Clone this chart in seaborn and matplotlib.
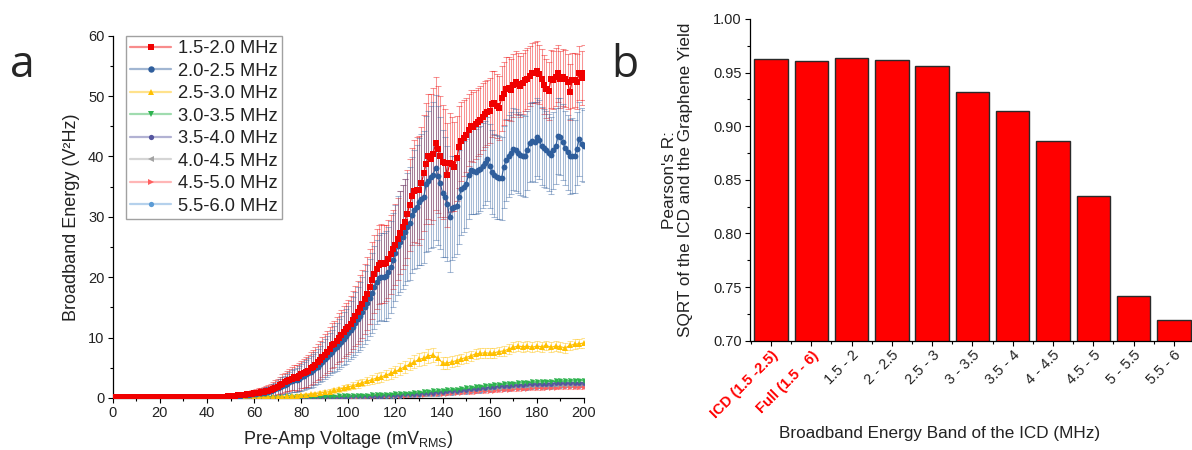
import numpy as np
import matplotlib
matplotlib.use("Agg")
import matplotlib.pyplot as plt
from matplotlib.lines import Line2D
from matplotlib.ticker import MultipleLocator, FixedLocator, FormatStrFormatter
import seaborn as sns

# ---------------- data: panel a (step 1 mV for the two strongest bands) ----------------
band_15_20 = [
    0.10, 0.09, 0.10, 0.11, 0.10, 0.09, 0.10, 0.10, 0.11, 0.10,
    0.10, 0.09, 0.10, 0.10, 0.11, 0.10, 0.10, 0.09, 0.10, 0.10,
    0.11, 0.10, 0.10, 0.10, 0.09, 0.10, 0.11, 0.10, 0.10, 0.10,
    0.10, 0.11, 0.10, 0.10, 0.11, 0.11, 0.12, 0.12, 0.12, 0.13,
    0.13, 0.14, 0.14, 0.15, 0.16, 0.17, 0.19, 0.21, 0.24, 0.27,
    0.30, 0.34, 0.38, 0.42, 0.46, 0.50, 0.55, 0.60, 0.65, 0.70,
    0.75, 0.80, 0.90, 0.95, 1.00, 1.10, 1.20, 1.30, 1.50, 1.70,
    1.90, 2.10, 2.40, 2.60, 2.80, 3.00, 3.20, 3.40, 3.30, 3.60,
    3.90, 4.10, 4.30, 4.50, 4.90, 5.20, 5.50, 5.90, 6.30, 6.80,
    7.20, 7.60, 8.10, 8.70, 9.00, 9.50, 10.0, 10.4, 10.9, 11.4,
    11.8, 12.3, 12.9, 13.6, 14.2, 14.9, 15.6, 16.4, 17.3, 18.4,
    19.5, 20.5, 21.4, 22.1, 22.3, 22.2, 22.4, 23.0, 23.8, 24.6,
    25.4, 26.3, 27.4, 28.3, 29.2, 30.5, 32.0, 33.4, 34.3, 34.5,
    34.4, 35.6, 37.2, 38.8, 40.0, 39.6, 40.4, 42.2, 41.2, 40.0,
    39.1, 38.9, 36.9, 39.0, 38.8, 38.3, 39.7, 41.6, 42.5, 43.0,
    43.6, 44.4, 45.1, 44.9, 45.3, 45.7, 46.0, 46.6, 47.0, 47.3,
    47.6, 48.7, 48.9, 48.3, 48.0, 49.6, 50.4, 51.2, 51.3, 51.0,
    51.8, 52.3, 52.0, 51.6, 52.1, 52.6, 52.9, 53.3, 53.8, 53.9,
    54.1, 53.6, 52.9, 51.9, 51.2, 50.8, 52.8, 52.7, 53.2, 53.8,
    52.8, 53.1, 52.9, 52.4, 50.7, 52.6, 52.7, 52.4, 53.8, 53.0,
    53.9]
err_15_20 = [
    0.10, 0.10, 0.10, 0.10, 0.10, 0.10, 0.10, 0.10, 0.10, 0.10,
    0.10, 0.10, 0.10, 0.10, 0.10, 0.10, 0.10, 0.10, 0.10, 0.10,
    0.10, 0.10, 0.10, 0.10, 0.10, 0.10, 0.10, 0.10, 0.10, 0.10,
    0.10, 0.10, 0.10, 0.10, 0.10, 0.10, 0.10, 0.10, 0.10, 0.10,
    0.10, 0.10, 0.12, 0.12, 0.14, 0.15, 0.17, 0.19, 0.21, 0.23,
    0.25, 0.28, 0.30, 0.33, 0.36, 0.40, 0.43, 0.46, 0.50, 0.55,
    0.60, 0.65, 0.70, 0.75, 0.80, 0.85, 0.90, 1.00, 1.10, 1.20,
    1.30, 1.40, 1.50, 1.60, 1.70, 1.80, 1.90, 2.00, 2.10, 2.20,
    2.30, 2.40, 2.50, 2.60, 2.70, 2.80, 2.90, 3.00, 3.10, 3.30,
    3.40, 3.50, 3.60, 3.70, 3.80, 3.90, 4.00, 4.20, 4.30, 4.40,
    4.50, 4.60, 4.80, 5.00, 5.20, 5.40, 5.60, 5.80, 6.00, 6.20,
    6.40, 6.50, 6.60, 6.60, 6.50, 6.40, 6.30, 6.40, 6.50, 6.60,
    6.70, 6.80, 6.90, 7.00, 7.10, 7.30, 7.60, 8.00, 8.40, 8.80,
    9.00, 9.30, 9.60, 10.0, 10.4, 10.8, 11.0, 11.0, 10.5, 10.0,
    9.50, 9.00, 8.60, 8.20, 7.80, 7.40, 7.00, 6.80, 6.50, 6.30,
    6.10, 6.00, 5.90, 5.80, 5.70, 5.60, 5.60, 5.50, 5.50, 5.40,
    5.40, 5.40, 5.30, 5.30, 5.30, 5.30, 5.20, 5.20, 5.20, 5.20,
    5.20, 5.20, 5.10, 5.10, 5.10, 5.10, 5.00, 5.00, 5.00, 5.00,
    5.00, 4.90, 4.90, 4.90, 4.90, 4.80, 4.80, 4.80, 4.80, 4.70,
    4.70, 4.70, 4.70, 4.60, 4.60, 4.60, 4.50, 4.50, 4.50, 4.50,
    4.50]

band_20_25 = [
    0.08, 0.09, 0.08, 0.08, 0.09, 0.08, 0.08, 0.09, 0.08, 0.08,
    0.08, 0.09, 0.08, 0.08, 0.09, 0.08, 0.08, 0.09, 0.08, 0.08,
    0.08, 0.09, 0.08, 0.08, 0.09, 0.08, 0.08, 0.09, 0.08, 0.08,
    0.08, 0.09, 0.09, 0.09, 0.10, 0.10, 0.10, 0.11, 0.11, 0.12,
    0.12, 0.13, 0.13, 0.14, 0.14, 0.15, 0.18, 0.20, 0.22, 0.25,
    0.28, 0.30, 0.33, 0.36, 0.40, 0.43, 0.47, 0.50, 0.55, 0.60,
    0.65, 0.70, 0.75, 0.80, 0.85, 0.95, 1.05, 1.15, 1.30, 1.45,
    1.60, 1.80, 2.00, 2.20, 2.40, 2.60, 2.80, 2.90, 3.00, 3.20,
    3.40, 3.60, 3.90, 4.10, 4.30, 4.60, 4.90, 5.20, 5.60, 6.00,
    6.40, 6.80, 7.30, 7.70, 8.10, 8.40, 8.90, 9.30, 9.80, 10.2,
    10.7, 11.2, 11.8, 12.4, 13.0, 13.6, 14.3, 15.0, 15.8, 16.6,
    17.4, 18.3, 19.2, 19.9, 20.1, 20.0, 20.2, 20.8, 21.7, 22.8,
    24.0, 25.2, 25.9, 26.6, 27.5, 28.3, 28.9, 30.3, 31.2, 31.7,
    32.5, 32.9, 33.3, 35.4, 36.0, 36.6, 37.0, 38.1, 36.8, 35.6,
    33.9, 33.3, 32.2, 29.9, 31.4, 31.7, 31.8, 33.3, 34.6, 35.0,
    35.5, 37.0, 37.7, 37.6, 37.5, 37.7, 38.0, 38.5, 38.9, 39.6,
    38.4, 37.4, 36.9, 36.6, 36.5, 36.4, 38.3, 39.4, 40.1, 40.6,
    41.2, 41.0, 40.6, 40.3, 40.1, 40.0, 41.0, 42.3, 42.5, 42.4,
    43.2, 42.8, 41.7, 41.4, 41.1, 40.6, 40.2, 41.0, 41.7, 43.4,
    43.3, 42.4, 41.4, 40.7, 40.0, 40.1, 40.0, 41.3, 42.9, 42.0,
    41.7]
err_20_25 = [
    0.10, 0.10, 0.10, 0.10, 0.10, 0.10, 0.10, 0.10, 0.10, 0.10,
    0.10, 0.10, 0.10, 0.10, 0.10, 0.10, 0.10, 0.10, 0.10, 0.10,
    0.10, 0.10, 0.10, 0.10, 0.10, 0.10, 0.10, 0.10, 0.10, 0.10,
    0.10, 0.10, 0.10, 0.10, 0.10, 0.10, 0.10, 0.10, 0.10, 0.10,
    0.10, 0.10, 0.11, 0.12, 0.13, 0.14, 0.16, 0.18, 0.20, 0.22,
    0.24, 0.26, 0.28, 0.30, 0.33, 0.36, 0.40, 0.43, 0.46, 0.50,
    0.55, 0.60, 0.65, 0.70, 0.75, 0.80, 0.85, 0.90, 1.00, 1.10,
    1.20, 1.30, 1.40, 1.50, 1.60, 1.70, 1.80, 1.90, 2.00, 2.10,
    2.20, 2.30, 2.40, 2.50, 2.60, 2.70, 2.80, 2.90, 3.00, 3.20,
    3.30, 3.40, 3.50, 3.60, 3.80, 4.00, 4.10, 4.20, 4.40, 4.50,
    4.60, 4.80, 5.00, 5.20, 5.40, 5.60, 5.80, 6.00, 6.20, 6.40,
    6.60, 6.80, 7.00, 7.10, 7.20, 7.30, 7.40, 7.50, 7.60, 7.80,
    8.00, 8.20, 8.40, 8.60, 8.80, 9.00, 9.30, 9.60, 9.90, 10.2,
    10.5, 10.8, 11.0, 11.3, 11.6, 11.8, 12.0, 12.0, 11.5, 11.0,
    10.5, 10.0, 9.50, 9.00, 8.60, 8.30, 8.00, 7.80, 7.60, 7.50,
    7.40, 7.30, 7.20, 7.20, 7.10, 7.10, 7.00, 7.00, 7.00, 7.00,
    7.00, 7.00, 6.90, 6.90, 6.90, 6.90, 6.80, 6.80, 6.80, 6.80,
    6.80, 6.80, 6.70, 6.70, 6.70, 6.70, 6.60, 6.60, 6.60, 6.60,
    6.50, 6.50, 6.50, 6.50, 6.40, 6.40, 6.40, 6.40, 6.30, 6.30,
    6.30, 6.30, 6.20, 6.20, 6.20, 6.20, 6.10, 6.10, 6.10, 6.10,
    6.00]

# ---------------- data: panel a (step 2 mV for the weaker bands) ----------------
band_25_30 = [
    0.05, 0.05, 0.05, 0.05, 0.05, 0.05, 0.05, 0.05, 0.05, 0.05,
    0.05, 0.05, 0.05, 0.05, 0.05, 0.05, 0.05, 0.06, 0.06, 0.06,
    0.06, 0.06, 0.06, 0.07, 0.07, 0.07, 0.08, 0.08, 0.09, 0.09,
    0.10, 0.11, 0.12, 0.13, 0.15, 0.18, 0.22, 0.27, 0.33, 0.40,
    0.48, 0.56, 0.64, 0.74, 0.84, 0.94, 1.05, 1.25, 1.45, 1.65,
    1.85, 2.05, 2.30, 2.55, 2.80, 3.05, 3.30, 3.50, 3.80, 4.10,
    4.40, 4.80, 5.20, 5.60, 6.00, 6.40, 6.60, 7.00, 7.10, 6.60,
    5.80, 5.80, 6.00, 6.20, 6.50, 6.70, 7.00, 7.30, 7.40, 7.50,
    7.40, 7.50, 7.70, 7.80, 8.10, 8.40, 8.60, 8.50, 8.60, 8.40,
    8.60, 8.50, 8.70, 8.40, 8.60, 8.50, 8.30, 8.70, 8.90, 9.00,
    9.10]
err_25_30 = [
    0.05, 0.05, 0.05, 0.05, 0.05, 0.05, 0.05, 0.05, 0.05, 0.05,
    0.05, 0.05, 0.05, 0.05, 0.05, 0.05, 0.05, 0.05, 0.05, 0.05,
    0.05, 0.05, 0.05, 0.05, 0.05, 0.05, 0.05, 0.05, 0.05, 0.05,
    0.06, 0.07, 0.08, 0.09, 0.10, 0.11, 0.12, 0.14, 0.16, 0.18,
    0.20, 0.22, 0.25, 0.28, 0.30, 0.33, 0.36, 0.40, 0.44, 0.48,
    0.52, 0.56, 0.60, 0.64, 0.68, 0.72, 0.76, 0.80, 0.84, 0.88,
    0.92, 0.96, 1.00, 1.00, 1.05, 1.10, 1.10, 1.15, 1.15, 1.10,
    1.00, 0.95, 0.90, 0.90, 0.85, 0.85, 0.85, 0.80, 0.80, 0.80,
    0.80, 0.80, 0.80, 0.80, 0.80, 0.80, 0.80, 0.80, 0.80, 0.80,
    0.80, 0.80, 0.80, 0.80, 0.80, 0.80, 0.80, 0.80, 0.80, 0.80,
    0.80]

band_30_35 = [
    0.02, 0.02, 0.02, 0.02, 0.02, 0.02, 0.02, 0.02, 0.02, 0.02,
    0.02, 0.02, 0.02, 0.02, 0.02, 0.02, 0.02, 0.02, 0.02, 0.02,
    0.02, 0.02, 0.02, 0.02, 0.02, 0.02, 0.03, 0.03, 0.04, 0.04,
    0.05, 0.05, 0.06, 0.06, 0.07, 0.07, 0.08, 0.09, 0.10, 0.11,
    0.12, 0.13, 0.14, 0.16, 0.17, 0.19, 0.21, 0.23, 0.25, 0.27,
    0.29, 0.31, 0.34, 0.37, 0.40, 0.43, 0.46, 0.49, 0.52, 0.56,
    0.60, 0.64, 0.68, 0.73, 0.78, 0.85, 0.92, 1.00, 1.08, 1.12,
    1.20, 1.25, 1.32, 1.40, 1.48, 1.58, 1.66, 1.75, 1.85, 1.95,
    2.05, 2.12, 2.20, 2.28, 2.35, 2.40, 2.46, 2.50, 2.55, 2.60,
    2.62, 2.66, 2.70, 2.72, 2.74, 2.76, 2.78, 2.80, 2.82, 2.84,
    2.86]
band_35_40 = [
    0.02, 0.02, 0.02, 0.02, 0.02, 0.02, 0.02, 0.02, 0.02, 0.02,
    0.02, 0.02, 0.02, 0.02, 0.02, 0.02, 0.02, 0.02, 0.02, 0.02,
    0.02, 0.02, 0.02, 0.02, 0.02, 0.02, 0.02, 0.03, 0.03, 0.03,
    0.04, 0.04, 0.05, 0.05, 0.06, 0.06, 0.07, 0.07, 0.08, 0.09,
    0.10, 0.11, 0.12, 0.13, 0.14, 0.15, 0.17, 0.18, 0.20, 0.22,
    0.24, 0.26, 0.28, 0.30, 0.32, 0.35, 0.38, 0.41, 0.44, 0.47,
    0.50, 0.54, 0.58, 0.62, 0.67, 0.72, 0.78, 0.84, 0.90, 0.95,
    1.02, 1.08, 1.14, 1.21, 1.28, 1.36, 1.44, 1.52, 1.60, 1.68,
    1.76, 1.84, 1.92, 1.99, 2.05, 2.10, 2.15, 2.20, 2.24, 2.28,
    2.31, 2.34, 2.37, 2.40, 2.42, 2.44, 2.46, 2.48, 2.50, 2.51,
    2.52]
band_40_45 = [
    0.02, 0.02, 0.02, 0.02, 0.02, 0.02, 0.02, 0.02, 0.02, 0.02,
    0.02, 0.02, 0.02, 0.02, 0.02, 0.02, 0.02, 0.02, 0.02, 0.02,
    0.02, 0.02, 0.02, 0.02, 0.02, 0.02, 0.02, 0.03, 0.03, 0.03,
    0.03, 0.04, 0.04, 0.05, 0.05, 0.06, 0.06, 0.07, 0.07, 0.08,
    0.09, 0.10, 0.10, 0.11, 0.12, 0.13, 0.14, 0.16, 0.17, 0.19,
    0.20, 0.22, 0.24, 0.26, 0.28, 0.30, 0.32, 0.35, 0.38, 0.41,
    0.44, 0.47, 0.51, 0.55, 0.59, 0.64, 0.69, 0.74, 0.79, 0.84,
    0.89, 0.95, 1.01, 1.07, 1.13, 1.20, 1.27, 1.34, 1.41, 1.48,
    1.55, 1.62, 1.69, 1.75, 1.81, 1.86, 1.91, 1.96, 2.00, 2.04,
    2.07, 2.10, 2.13, 2.15, 2.17, 2.19, 2.21, 2.23, 2.25, 2.26,
    2.27]
band_45_50 = [
    0.02, 0.02, 0.02, 0.02, 0.02, 0.02, 0.02, 0.02, 0.02, 0.02,
    0.02, 0.02, 0.02, 0.02, 0.02, 0.02, 0.02, 0.02, 0.02, 0.02,
    0.02, 0.02, 0.02, 0.02, 0.02, 0.02, 0.02, 0.02, 0.03, 0.03,
    0.03, 0.03, 0.04, 0.04, 0.04, 0.05, 0.05, 0.06, 0.06, 0.07,
    0.07, 0.08, 0.09, 0.09, 0.10, 0.11, 0.12, 0.13, 0.14, 0.15,
    0.16, 0.18, 0.19, 0.21, 0.22, 0.24, 0.26, 0.28, 0.30, 0.32,
    0.34, 0.37, 0.40, 0.43, 0.46, 0.50, 0.54, 0.58, 0.62, 0.66,
    0.70, 0.74, 0.79, 0.84, 0.89, 0.94, 0.99, 1.04, 1.09, 1.14,
    1.19, 1.24, 1.29, 1.34, 1.39, 1.43, 1.47, 1.51, 1.55, 1.58,
    1.61, 1.64, 1.67, 1.70, 1.72, 1.74, 1.76, 1.78, 1.80, 1.81,
    1.82]
band_55_60 = [
    0.02, 0.02, 0.02, 0.02, 0.02, 0.02, 0.02, 0.02, 0.02, 0.02,
    0.02, 0.02, 0.02, 0.02, 0.02, 0.02, 0.02, 0.02, 0.02, 0.02,
    0.02, 0.02, 0.02, 0.02, 0.02, 0.02, 0.02, 0.02, 0.03, 0.03,
    0.03, 0.04, 0.04, 0.04, 0.05, 0.05, 0.06, 0.06, 0.07, 0.07,
    0.08, 0.09, 0.09, 0.10, 0.11, 0.12, 0.13, 0.14, 0.15, 0.17,
    0.18, 0.20, 0.21, 0.23, 0.25, 0.27, 0.29, 0.31, 0.33, 0.36,
    0.38, 0.41, 0.44, 0.48, 0.52, 0.56, 0.60, 0.64, 0.69, 0.73,
    0.78, 0.83, 0.88, 0.93, 0.99, 1.05, 1.11, 1.17, 1.23, 1.29,
    1.35, 1.41, 1.46, 1.51, 1.56, 1.61, 1.65, 1.69, 1.73, 1.77,
    1.80, 1.83, 1.86, 1.89, 1.91, 1.93, 1.95, 1.97, 1.99, 2.00,
    2.01]
# scalar standard deviations for the weak bands
err_30_35 = 0.25
err_35_40 = 0.20
err_40_45 = 0.20
err_45_50 = 0.25
err_55_60 = 0.20

series_labels = ["1.5-2.0 MHz", "2.0-2.5 MHz", "2.5-3.0 MHz", "3.0-3.5 MHz",
                 "3.5-4.0 MHz", "4.0-4.5 MHz", "4.5-5.0 MHz", "5.5-6.0 MHz"]

# ---------------- data: panel b ----------------
band_labels = ["ICD (1.5 -2.5)", "Full (1.5 - 6)", "1.5 - 2", "2 - 2.5", "2.5 - 3",
               "3 - 3.5", "3.5 - 4", "4 - 4.5", "4.5 - 5", "5 - 5.5", "5.5 - 6"]
pearson_r = [0.963, 0.961, 0.964, 0.962, 0.956, 0.932, 0.914, 0.886, 0.835, 0.742, 0.719]

# ---------------- style ----------------
sns.set_theme(style="ticks")
plt.rcParams["font.family"] = ["Liberation Sans", "DejaVu Sans"]
plt.rcParams["mathtext.fontset"] = "custom"
plt.rcParams["mathtext.rm"] = "Liberation Sans"
plt.rcParams["mathtext.it"] = "Liberation Sans:italic"
plt.rcParams["mathtext.bf"] = "Liberation Sans:bold"
for ax_name in ("xtick", "ytick"):
    plt.rcParams[f"{ax_name}.direction"] = "out"
    plt.rcParams[f"{ax_name}.major.size"] = 3.5
    plt.rcParams[f"{ax_name}.minor.size"] = 2.0
    plt.rcParams[f"{ax_name}.major.width"] = 0.8
    plt.rcParams[f"{ax_name}.minor.width"] = 0.8
    plt.rcParams[f"{ax_name}.color"] = "black"
    plt.rcParams[f"{ax_name}.labelcolor"] = "#222222"
plt.rcParams["axes.edgecolor"] = "black"
plt.rcParams["axes.linewidth"] = 0.9

fig = plt.figure(figsize=(11.92, 4.5), dpi=100)
ax1 = fig.add_axes([0.09455, 0.11556, 0.39539, 0.80511])
ax2 = fig.add_axes([0.62919, 0.24289, 0.37081, 0.71489])

# ---------------- panel a ----------------
colors = ["#F00000", "#2F5E9C", "#FFC000", "#2DB34F", "#55559F", "#A3A3A3", "#FF5F5F", "#5B9BD5"]
markers = ["s", "o", "^", "v", "o", "<", ">", "o"]
msizes = [3.9, 4.2, 3.8, 3.6, 3.4, 3.4, 3.4, 3.4]
values = [band_15_20, band_20_25, band_25_30, band_30_35, band_35_40, band_40_45, band_45_50, band_55_60]
errors = [err_15_20, err_20_25, err_25_30, err_30_35, err_35_40, err_40_45, err_45_50, err_55_60]
steps = [1, 1, 2, 2, 2, 2, 2, 2]

draw_order = [7, 6, 5, 4, 3, 2, 0, 1]
for rank, i in enumerate(draw_order):
    y = np.asarray(values[i], dtype=float)
    x = np.arange(len(y)) * steps[i]
    ax1.errorbar(x, y, yerr=errors[i], fmt="none", ecolor=colors[i], elinewidth=0.75,
                 capsize=2.3, capthick=0.75, alpha=0.42, zorder=2 + rank * 0.01)
marker_order = [7, 6, 5, 4, 3, 2, 1, 0]
for rank, i in enumerate(marker_order):
    y = np.asarray(values[i], dtype=float)
    x = np.arange(len(y)) * steps[i]
    sns.lineplot(x=x, y=y, ax=ax1, color=colors[i], lw=0.8, marker=markers[i],
                 markersize=msizes[i], markeredgewidth=0, estimator=None, sort=False,
                 legend=False, zorder=3 + rank * 0.01)

ax1.set_xlim(0, 200)
ax1.set_ylim(0, 60)
ax1.xaxis.set_major_locator(MultipleLocator(20))
ax1.xaxis.set_minor_locator(MultipleLocator(10))
ax1.yaxis.set_major_locator(MultipleLocator(10))
ax1.yaxis.set_minor_locator(MultipleLocator(5))
ax1.tick_params(labelsize=10.5, pad=2.5)
sns.despine(ax=ax1)

ax1.set_ylabel("Broadband Energy (V²Hz)", fontsize=13, color="#222222")
ax1.yaxis.set_label_coords(-0.0864, 0.5)
ax1.yaxis.label.set_verticalalignment("center")
ax1.set_xlabel(r"Pre-Amp Voltage (mV$_{\mathrm{RMS}}$)", fontsize=13, color="#222222")
ax1.xaxis.set_label_coords(0.5, -0.128)
ax1.xaxis.label.set_verticalalignment("baseline")

handles = []
for i in range(8):
    ln = Line2D([], [], color=colors[i], lw=1.6, alpha=0.45)
    mk = Line2D([], [], color=colors[i], lw=0, marker=markers[i], markersize=msizes[i] + 0.4,
                markeredgewidth=0)
    handles.append((ln, mk))
leg = ax1.legend(handles, series_labels, loc="upper left", bbox_to_anchor=(0.028, 1.0),
                 borderaxespad=0, fontsize=13.2, frameon=True, fancybox=False,
                 handlelength=2.2, handletextpad=0.38, borderpad=0.25, labelspacing=0.3,
                 numpoints=1)
leg.get_frame().set_edgecolor("#8A8A8A")
leg.get_frame().set_linewidth(1.0)
for t in leg.get_texts():
    t.set_color("#222222")

# ---------------- panel b ----------------
sns.barplot(x=band_labels, y=pearson_r, ax=ax2, color="#FF0000", saturation=1,
            edgecolor="#2A2A2A", linewidth=1.0, width=0.83)
ax2.set_xlim(-0.52, 10.45)
ax2.set_ylim(0.70, 1.00)
ax2.yaxis.set_major_locator(MultipleLocator(0.05))
ax2.yaxis.set_minor_locator(MultipleLocator(0.025))
ax2.yaxis.set_major_formatter(FormatStrFormatter("%.2f"))
ax2.xaxis.set_minor_locator(FixedLocator(np.arange(-0.5, 10.6, 1.0)))
ax2.tick_params(axis="y", labelsize=10.5, pad=2.5)
ax2.tick_params(axis="x", labelsize=10.5, pad=2)
sns.despine(ax=ax2)
for k, lab in enumerate(ax2.get_xticklabels()):
    lab.set_rotation(45)
    lab.set_ha("right")
    lab.set_va("top")
    lab.set_rotation_mode("anchor")
    if k < 2:
        lab.set_color("#FF0000")
        lab.set_fontweight("bold")

ax2.set_ylabel("Pearson's R:\nSQRT of the ICD and the Graphene Yield", fontsize=12.3,
               color="#222222", multialignment="center", linespacing=1.15)
ax2.yaxis.set_label_coords(-0.164, 0.5)
ax2.yaxis.label.set_verticalalignment("center")
ax2.set_xlabel("Broadband Energy Band of the ICD (MHz)", fontsize=12.3, color="#222222")
ax2.xaxis.set_label_coords(0.43, -0.3025)
ax2.xaxis.label.set_verticalalignment("baseline")

# panel letters
fig.text(10 / 1192, (450 - 77) / 450, "a", fontsize=32, family="Open Sans", va="baseline")
fig.text(611 / 1192, (450 - 77) / 450, "b", fontsize=32, family="Open Sans", va="baseline")

fig.savefig("out.png", dpi=100, facecolor="white")
